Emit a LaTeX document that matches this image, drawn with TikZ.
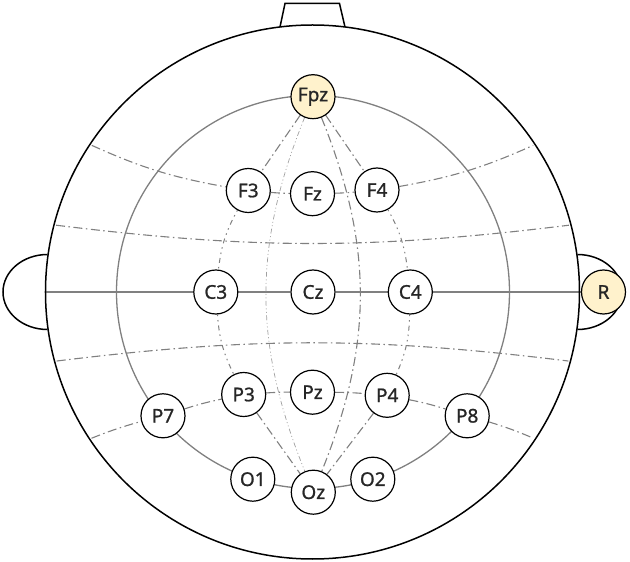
\documentclass[tikz,border=0pt]{standalone}
\usepackage{fontspec}
\setmainfont{Noto Sans}
\newfontfamily\labelfont{Noto Sans}[FakeBold=1]
\definecolor{lightgold}{RGB}{255,242,204}
\definecolor{guidegray}{RGB}{128,128,128}
\pgfdeclarelayer{background}
\pgfsetlayers{background,main}

\begin{document}
\begin{tikzpicture}[x=1pt, y=1pt]
		\tikzset{
			electrode/.style={
				circle,
				draw,
				fill=white,
				line width=1.2pt,
				minimum size=44pt,
				inner sep=0pt,
				text=black!85,
				font=\labelfont\fontsize{19}{22}\selectfont
			},
			refnode/.style={
				electrode,
				fill=lightgold
			},
			headline/.style={
				line width=1.5pt
			},
			midline/.style={
				draw=guidegray,
				line width=1.3pt
			},
			gridline/.style={
				draw=guidegray,
				line width=1.1pt,
				dash pattern=on 9pt off 3.5pt on 1.5pt off 3.5pt
			},
			dotline/.style={
				draw=guidegray,
				line width=1pt,
				dash pattern=on 1.5pt off 4pt on 1.5pt off 4pt on 5pt off 4pt
			},
			fineline/.style={
				draw=guidegray!75,
				line width=0.7pt,
				dash pattern=on 5pt off 2.5pt on 1pt off 2.5pt on 1pt off 2.5pt
			}
		}

		\useasboundingbox (-312.5, -270) rectangle (317.5, 292);

		\draw[headline] (0, 0) circle[radius=267];
		\draw[headline] (-32.5, 265) -- (-27.5, 288.5) -- (27, 288.5) -- (32.5, 265);
		\draw[headline] (-265, 37.5)
			arc[start angle=90, end angle=270, x radius=44.5, y radius=37.5];
		\draw[headline] (265, 37.5)
			arc[start angle=90, end angle=-90, x radius=44.5, y radius=37.5];

		\coordinate (mid-w) at (180:266.5);
		\coordinate (lat1-w) at (146.4:265);
		\coordinate (lat1-e) at (33.6:265);
		\coordinate (lat2-w) at (165.4:265);
		\coordinate (lat2-e) at (14.6:265);
		\coordinate (lat3-w) at (195.1:265);
		\coordinate (lat3-e) at (-15.1:265);
		\coordinate (lat4-w) at (213.5:265);
		\coordinate (lat4-e) at (-33.5:265);

		\node[refnode] (Fpz) at (0.5, 195.3)
			{Fpz};

		\node[electrode] (F3) at (-64.2, 101.5)
			{F3};
		\node[electrode] (Fz) at (0, 98.3)
			{Fz};
		\node[electrode] (F4) at (64.5, 102)
			{F4};

		\node[electrode] (C3) at (-96.7, 0)
			{C3};
		\node[electrode] (Cz) at (0.5, 0)
			{Cz};
		\node[electrode] (C4) at (97.8, 0)
			{C4};
		\node[refnode] (R) at (291, 0)
			{R};

		\node[electrode] (P7) at (-149.5, -123.8)
			{P7};
		\node[electrode] (P3) at (-68.8, -102.5)
			{P3};
		\node[electrode] (Pz) at (0, -100.2)
			{Pz};
		\node[electrode] (P4) at (74.7, -103.3)
			{P4};
		\node[electrode] (P8) at (154.7, -123.8)
			{P8};

		\node[electrode] (O1) at (-59.7, -187.2)
			{O1};
		\node[electrode] (Oz) at (0.8, -200.2)
			{Oz};
		\node[electrode] (O2) at (60.3, -187.2)
			{O2};

		\begin{pgfonlayer}{background}
		\draw[midline] (0.5, 0) circle[radius=196.5];
		\draw[midline] (mid-w) -- (C3) -- (Cz) -- (C4) -- (R);

		\draw[gridline] (lat1-w) to[bend right=7] (F3);
		\draw[gridline] (F3) to[bend right=2] (Fz);
		\draw[gridline] (Fz) to[bend right=2] (F4);
		\draw[gridline] (F4) to[bend right=7] (lat1-e);
		\draw[gridline] (lat2-w) to[bend right=7] (lat2-e);
		\draw[gridline] (lat3-w) to[bend left=7] (lat3-e);
		\draw[gridline] (lat4-w) to[bend left=3] (P7);
		\draw[gridline] (P7) to[bend left=3] (P3);
		\draw[gridline] (P3) to[bend left=2] (Pz);
		\draw[gridline] (Pz) to[bend left=2] (P4);
		\draw[gridline] (P4) to[bend left=3] (P8);
		\draw[gridline] (P8) to[bend left=3] (lat4-e);

		\draw[gridline] (Fpz) -- (F3);
		\draw[dotline] (F3) to[bend right=11] (C3);
		\draw[dotline] (C3) to[bend right=11] (P3);
		\draw[gridline] (P3) -- (Oz);

		\draw[gridline] (Fpz) -- (F4);
		\draw[dotline] (F4) to[bend left=11] (C4);
		\draw[dotline] (C4) to[bend left=11] (P4);
		\draw[gridline] (P4) -- (Oz);

		\draw[fineline] (Fpz) to[bend right=22] (Oz);
		\draw[gridline] (Fpz) to[bend left=22] (Oz);
		\end{pgfonlayer}

	\end{tikzpicture}
\end{document}
